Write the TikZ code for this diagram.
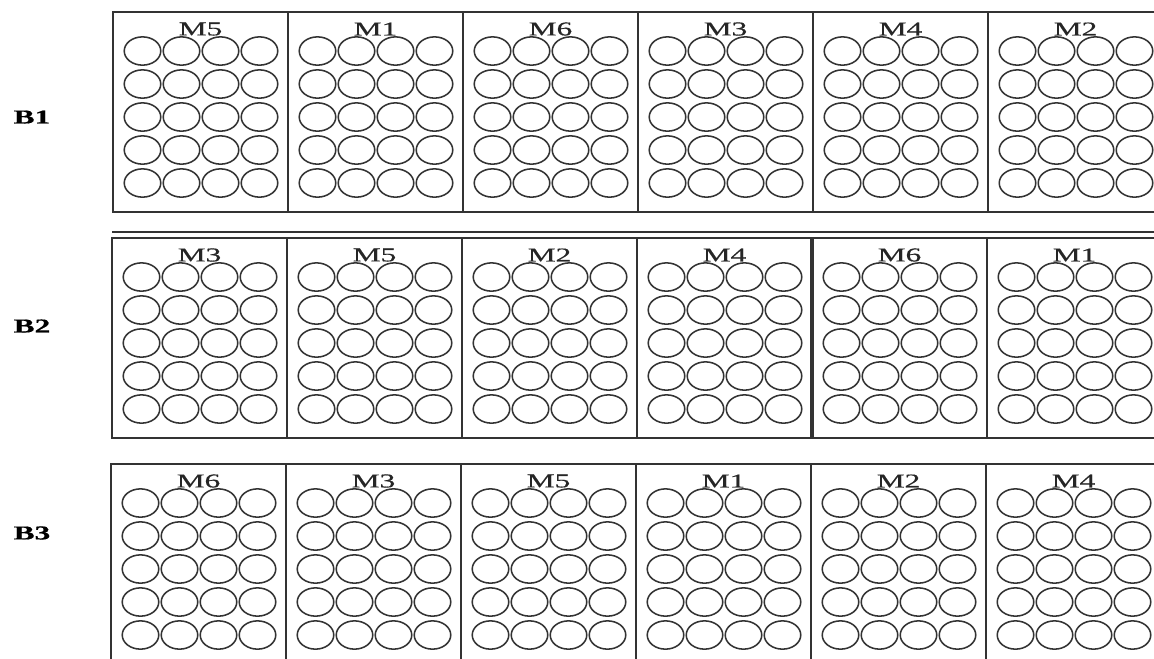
\documentclass[tikz,border=0pt]{standalone}
\usepackage{fontspec}
\setmainfont{Liberation Serif}
\newfontfamily\plotfont[FakeStretch=1.6, FakeBold=0.6]{Liberation Serif}
\usepackage{tikz}

\begin{document}
\begin{tikzpicture}[x=0.75pt, y=-0.75pt,
  plot/.style={draw=black!80, line width=1.4pt},
  well/.style={draw=black!80, line width=1.15pt},
  mlabel/.style={font=\plotfont\fontsize{14.7}{16}\selectfont, inner sep=0pt, text=black!85},
  blabel/.style={font=\plotfont\bfseries\fontsize{14.7}{16}\selectfont, inner sep=0pt}]
\useasboundingbox (0,0) rectangle (1154,658);
\clip (0,0) rectangle (1154,658);
% three blocks, six plots each, 4 x 5 wells per plot
\foreach \by/\bx/\ly/\blk/\mods in {12/113/117/B1/{M5,M1,M6,M3,M4,M2},
    238/112/326/B2/{M3,M5,M2,M4,M6,M1},
    464/111/533/B3/{M6,M3,M5,M1,M2,M4}}{
  \node[blabel] (\blk) at (32,\ly) {\blk};
  \draw[plot] (\bx,\by) rectangle (\bx+1050,\by+200);
  \foreach \i in {1,...,5}
    \draw[plot] (\bx+\i*175,\by) -- (\bx+\i*175,\by+200);
  \foreach \m [count=\i from 0] in \mods {
    \node[mlabel] (\blk-\m) at (\bx+\i*175+87.5,\by+17) {\m};
    \foreach \c in {0,...,3}
      \foreach \r in {0,...,4}
        \draw[well] (\bx+\i*175+29.5+\c*39,\by+39+\r*33) ellipse[x radius=13.7pt, y radius=10.6pt];
  }
}
% extra rule above B2 and heavy divider before M6
\draw[plot] (112,232) -- (1162,232);
\draw[plot, line width=2.4pt] (812,238) -- (812,438);
\end{tikzpicture}
\end{document}
